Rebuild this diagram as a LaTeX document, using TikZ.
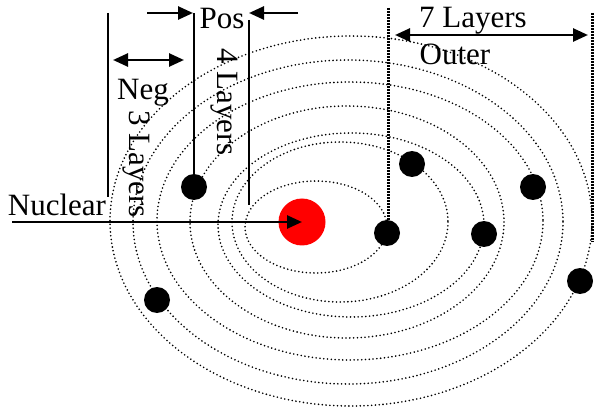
\documentclass[tikz,border=0pt]{standalone}
\usepackage{fontspec}
\setmainfont{Liberation Serif}
\usetikzlibrary{arrows.meta}
\begin{document}
\begin{tikzpicture}[x=1pt,y=-1pt,
  orbit/.style={line width=1.8pt, dash pattern=on 0pt off 3.8pt, line cap=round},
  guideline/.style={line width=3pt, line cap=butt, dash pattern=on 1.8pt off 1.2pt},
  electron/.style={circle, fill=black, minimum size=26pt, inner sep=0pt},
  nucleus/.style={circle, fill=red, minimum size=47pt, inner sep=0pt},
  lbl/.style={font=\fontsize{31}{31}\selectfont, inner sep=0pt},
  bar/.style={line width=2pt},
  tip/.style={-{Triangle[length=15pt,width=13pt]}},
  arr/.style={line width=2.6pt, tip},
  darr/.style={line width=2.6pt, {Triangle[length=15pt,width=13pt]}-{Triangle[length=15pt,width=13pt]}}]
\useasboundingbox (0,0) rectangle (595,409);
% orbits
\draw[orbit] (316,227) ellipse [x radius=71, y radius=46];
\draw[orbit] (340,222) ellipse [x radius=108, y radius=80];
\draw[orbit] (351,225) ellipse [x radius=133, y radius=92];
\draw[orbit] (347,222) ellipse [x radius=157, y radius=116];
\draw[orbit] (350,221) ellipse [x radius=193, y radius=139];
\draw[orbit] (348,222) ellipse [x radius=215, y radius=162];
\draw[orbit] (351,221) ellipse [x radius=241, y radius=185];
% nucleus and electrons
\node[nucleus] (nuc) at (302,222) {};
\node[electron] (b1) at (387,233) {};
\node[electron] (b2) at (412,164) {};
\node[electron] (b3) at (484,234) {};
\node[electron] (b4) at (194,187) {};
\node[electron] (b5) at (533,187) {};
\node[electron] (b6) at (157,300) {};
\node[electron] (b7) at (580,281) {};
% guide lines
\coordinate (l3top) at (108,13);
\coordinate (l3bot) at (108,197);
\coordinate (l4top) at (194,13);
\coordinate (r4top) at (249,20);
\coordinate (r4bot) at (249,205);
\draw[bar] (l3top) -- (l3bot);
\draw[bar] (b4.center) -- (l4top);
\draw[bar] (r4top) -- (r4bot);
\coordinate (o1top) at (388.5,8);
\coordinate (o1bot) at (388.5,222);
\coordinate (o2top) at (592.5,13);
\coordinate (o2bot) at (592.5,242);
\draw[guideline] (o1top) -- (o1bot);
\draw[guideline] (o2top) -- (o2bot);
% arrows
\coordinate (pa1) at (147,13);
\coordinate (pa1e) at (193,13);
\coordinate (pa2) at (298,13);
\coordinate (pa2e) at (249,13);
\draw[arr] (pa1) -- (pa1e);
\draw[arr] (pa2) -- (pa2e);
\coordinate (na1) at (113,60);
\coordinate (na2) at (184,60);
\draw[darr] (na1) -- (na2);
\coordinate (oa1) at (395,35);
\coordinate (oa2) at (588,35);
\draw[darr] (oa1) -- (oa2);
\coordinate (nstart) at (12,222);
\draw[arr] (nstart) -- (nuc.center);
% labels
\node[lbl, anchor=base] (pos) at (222,29) {Pos};
\node[lbl, anchor=base] (neg) at (143,100) {Neg};
\node[lbl, anchor=base] (nucl) at (57,215) {Nuclear};
\node[lbl, anchor=base] (seven) at (473,28) {7 Layers};
\node[lbl, anchor=base] (outer) at (455,65) {Outer};
\node[lbl, rotate=-90] (three) at (136,164) {3 Layers};
\node[lbl, rotate=-90] (four) at (224,102) {4 Layers};
\end{tikzpicture}
\end{document}
